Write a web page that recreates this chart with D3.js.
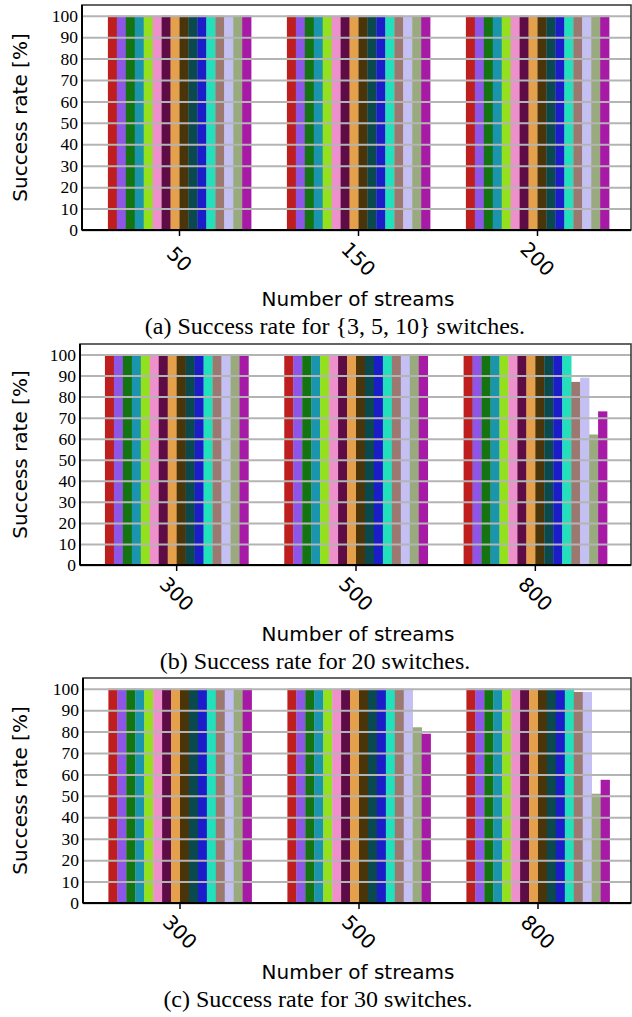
<!DOCTYPE html>
<html>
<head>
<meta charset="utf-8">
<script src="https://cdn.jsdelivr.net/npm/d3@7"></script>
<style>
  body { margin: 0; background: #fff; }
  svg { display: block; }
  .ytick { font-family: "Liberation Serif", "Times New Roman", serif; font-size: 17.5px; fill: #000; }
  .xtick, .xlabel, .ylabel { font-family: "DejaVu Sans", sans-serif; font-size: 20px; fill: #000; }
  .caption { font-family: "Liberation Serif", "Times New Roman", serif; font-size: 24px; fill: #000; }
</style>
</head>
<body>
<div id="svg-container"></div>
<script>
// data
const colors = ["#be1e1e", "#8e56e6", "#157412", "#1a95ad", "#92e01e", "#ee90cc",
  "#5e0c46", "#e4a04a", "#4a350a", "#0a4a4e", "#1c1cc8", "#22e0bc",
  "#9b7970", "#c4c0f4", "#98aa7e", "#a61aa6"];
const yTicks = [0, 10, 20, 30, 40, 50, 60, 70, 80, 90, 100];

const groupsA = ["50", "150", "200"];
const valuesA = [
  [100, 100, 100, 100, 100, 100, 100, 100, 100, 100, 100, 100, 100, 100, 100, 100],
  [100, 100, 100, 100, 100, 100, 100, 100, 100, 100, 100, 100, 100, 100, 100, 100],
  [100, 100, 100, 100, 100, 100, 100, 100, 100, 100, 100, 100, 100, 100, 100, 100]
];

const groupsB = ["300", "500", "800"];
const valuesB = [
  [100, 100, 100, 100, 100, 100, 100, 100, 100, 100, 100, 100, 100, 100, 100, 100],
  [100, 100, 100, 100, 100, 100, 100, 100, 100, 100, 100, 100, 100, 100, 100, 100],
  [100, 100, 100, 100, 100, 100, 100, 100, 100, 100, 100, 100, 87, 89, 62, 73]
];

const groupsC = ["300", "500", "800"];
const valuesC = [
  [100, 100, 100, 100, 100, 100, 100, 100, 100, 100, 100, 100, 100, 100, 100, 100],
  [100, 100, 100, 100, 100, 100, 100, 100, 100, 100, 100, 100, 100, 100, 82, 79],
  [100, 100, 100, 100, 100, 100, 100, 100, 100, 100, 100, 100, 98.5, 98.5, 51, 57.5]
];

const captions = [
  "(a) Success rate for {3, 5, 10} switches.",
  "(b) Success rate for 20 switches.",
  "(c) Success rate for 30 switches."
];

// layout per panel
const panels = [
  { groups: groupsA, values: valuesA, left: 82, top: 5, bottom: 230, x0: 90, x1: 627, capX: 335, capY: 334 },
  { groups: groupsB, values: valuesB, left: 80, top: 344, bottom: 565, x0: 87, x1: 625, capX: 315, capY: 669 },
  { groups: groupsC, values: valuesC, left: 83, top: 678, bottom: 903, x0: 90.5, x1: 627.5, capX: 318, capY: 1007 }
];
const right = 631;

const svg = d3.select("#svg-container").append("svg")
  .attr("width", 632).attr("height", 1017);

panels.forEach((p, pi) => {
  const g = svg.append("g");

  const yScale = d3.scaleLinear().domain([0, 105]).range([p.bottom, p.top]);
  const xScale = d3.scaleBand().domain(p.groups).range([p.x0, p.x1]).padding(0);
  const xInner = d3.scaleBand().domain(d3.range(colors.length))
    .range([xScale.bandwidth() * 0.1, xScale.bandwidth() * 0.9]).padding(0);

  // bars
  p.groups.forEach((grp, gi) => {
    g.append("g")
      .attr("transform", `translate(${xScale(grp)},0)`)
      .selectAll("rect")
      .data(p.values[gi])
      .join("rect")
      .attr("x", (d, i) => xInner(i))
      .attr("width", xInner.bandwidth() + 0.3)
      .attr("y", (d) => yScale(d))
      .attr("height", (d) => yScale(0) - yScale(d))
      .attr("fill", (d, i) => colors[i]);
  });

  // grid (drawn over the bars)
  const yAxis = d3.axisLeft(yScale).tickValues(yTicks)
    .tickSize(-(right - p.left)).tickFormat("");
  const grid = g.append("g")
    .attr("transform", `translate(${p.left},0)`)
    .call(yAxis);
  grid.select(".domain").remove();
  grid.selectAll("line").attr("stroke", "#b4b4b4").attr("stroke-width", 2);

  // y tick labels
  g.selectAll(".ytick")
    .data(yTicks)
    .join("text")
    .attr("class", "ytick")
    .attr("x", p.left - 4)
    .attr("y", (d) => yScale(d))
    .attr("dy", "0.35em")
    .attr("text-anchor", "end")
    .text((d) => d);

  // frame
  g.append("rect")
    .attr("x", p.left).attr("y", p.top)
    .attr("width", right - p.left).attr("height", p.bottom - p.top)
    .attr("fill", "none").attr("stroke", "#333").attr("stroke-width", 1.5);
  g.append("line")
    .attr("x1", p.left).attr("x2", p.left)
    .attr("y1", p.top).attr("y2", p.bottom)
    .attr("stroke", "#000").attr("stroke-width", 2);
  g.append("line")
    .attr("x1", p.left).attr("x2", right)
    .attr("y1", p.bottom).attr("y2", p.bottom)
    .attr("stroke", "#000").attr("stroke-width", 2);

  // x ticks
  const xAxis = d3.axisBottom(xScale).tickSize(6).tickSizeOuter(0).tickFormat("");
  const xg = g.append("g")
    .attr("transform", `translate(0,${p.bottom})`)
    .call(xAxis);
  xg.select(".domain").remove();
  xg.selectAll("line").attr("stroke", "#000").attr("stroke-width", 1.5);

  g.selectAll(".xtick")
    .data(p.groups)
    .join("text")
    .attr("class", "xtick")
    .attr("text-anchor", "middle")
    .attr("dominant-baseline", "central")
    .attr("transform", (d) => `translate(${xScale(d) + xScale.bandwidth() / 2},${p.bottom + 29}) rotate(45)`)
    .text((d) => d);

  // axis titles
  g.append("text")
    .attr("class", "xlabel")
    .attr("x", 358)
    .attr("y", p.bottom + 76)
    .attr("text-anchor", "middle")
    .text("Number of streams");

  g.append("text")
    .attr("class", "ylabel")
    .attr("transform", `translate(27,${(p.top + p.bottom) / 2}) rotate(-90)`)
    .attr("text-anchor", "middle")
    .text("Success rate [%]");

  // caption
  g.append("text")
    .attr("class", "caption")
    .attr("x", p.capX)
    .attr("y", p.capY)
    .attr("text-anchor", "middle")
    .text(captions[pi]);
});
</script>
</body>
</html>
